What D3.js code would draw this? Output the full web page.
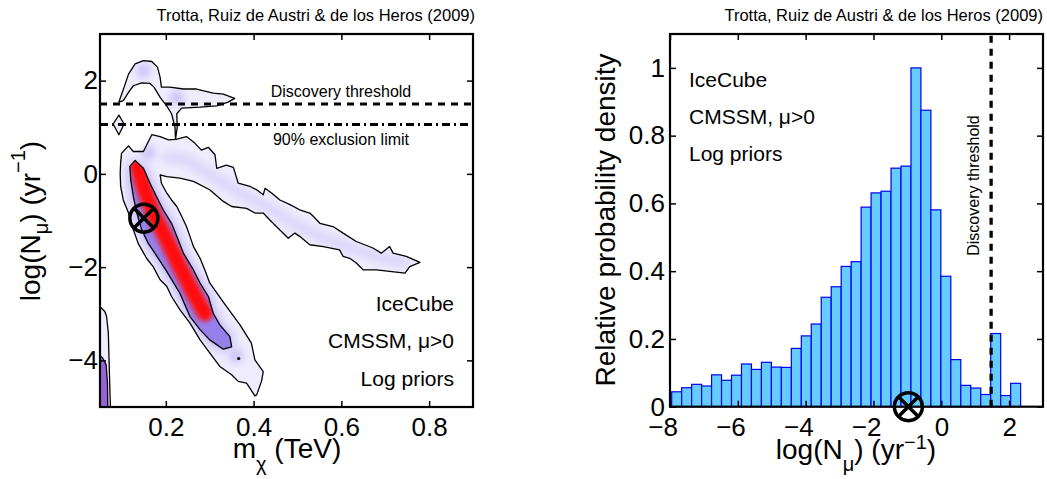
<!DOCTYPE html>
<html>
<head>
<meta charset="utf-8">
<script src="https://cdn.jsdelivr.net/npm/d3@7"></script>
<style>
  body { margin: 0; background: #fff; }
  text { font-family: "Liberation Sans", Arial, Helvetica, sans-serif; fill: #000; }
</style>
</head>
<body>
<svg id="Viz"></svg>
<script>
width = 1047,
height = 479;

// ---- left panel: posterior in (m_chi [TeV], log N_mu) ----
// outer (95%) contour of the main band + upper branch
var outerMain = [[0.099,0.44],[0.115,0.60],[0.126,0.48],[0.149,0.48],[0.160,0.69],[0.168,0.84],[0.187,0.80],
  [0.206,0.73],[0.223,0.74],[0.247,0.80],[0.266,0.66],[0.281,0.51],[0.297,0.57],[0.312,0.41],[0.316,0.12],
  [0.338,0.19],[0.354,0.14],[0.365,-0.20],[0.392,-0.27],[0.407,-0.34],[0.422,-0.45],[0.426,-0.31],[0.441,-0.41],
  [0.460,-0.56],[0.483,-0.66],[0.505,-0.77],[0.528,-0.84],[0.536,-0.91],[0.551,-1.06],[0.581,-1.13],[0.604,-1.27],
  [0.634,-1.45],[0.672,-1.59],[0.691,-1.70],[0.710,-1.56],[0.718,-1.70],[0.748,-1.77],[0.779,-1.90],[0.756,-1.99],
  [0.745,-2.13],[0.710,-2.09],[0.680,-2.06],[0.650,-2.06],[0.634,-1.91],[0.619,-1.81],[0.604,-1.77],[0.596,-1.63],
  [0.559,-1.56],[0.528,-1.52],[0.505,-1.34],[0.494,-1.27],[0.479,-1.38],[0.464,-1.24],[0.437,-0.99],[0.422,-0.84],
  [0.403,-0.84],[0.384,-0.74],[0.350,-0.70],[0.331,-0.59],[0.300,-0.34],[0.263,-0.16],[0.232,-0.09],[0.202,-0.06],
  [0.187,-0.02],[0.190,-0.20],[0.202,-0.41],[0.213,-0.56],[0.225,-0.70],[0.236,-0.91],[0.247,-1.13],[0.255,-1.34],
  [0.263,-1.56],[0.278,-1.81],[0.289,-2.06],[0.300,-2.34],[0.338,-2.84],[0.369,-3.24],[0.395,-3.63],[0.403,-3.99],
  [0.422,-4.24],[0.418,-4.45],[0.407,-4.74],[0.403,-4.76],[0.384,-4.49],[0.365,-4.45],[0.350,-4.31],[0.323,-4.13],
  [0.300,-3.84],[0.278,-3.56],[0.255,-3.20],[0.232,-2.91],[0.213,-2.63],[0.202,-2.41],[0.187,-2.27],[0.171,-1.99],
  [0.156,-1.81],[0.137,-1.49],[0.126,-1.20],[0.115,-0.84],[0.103,-0.56],[0.097,-0.27],[0.096,0.01],[0.097,0.23]];

// inner (68%) contour of the main band
var innerMain = [[0.130,0.29],[0.149,0.12],[0.164,-0.20],[0.179,-0.49],[0.194,-0.77],[0.213,-1.06],[0.228,-1.41],
  [0.240,-1.70],[0.263,-2.06],[0.278,-2.34],[0.297,-2.63],[0.308,-2.99],[0.323,-3.24],[0.346,-3.49],[0.350,-3.71],
  [0.331,-3.76],[0.300,-3.56],[0.278,-3.34],[0.255,-3.06],[0.232,-2.56],[0.202,-2.09],[0.175,-1.70],[0.160,-1.49],
  [0.145,-1.20],[0.134,-0.84],[0.126,-0.49],[0.120,-0.13],[0.118,0.16]];

// upper lobe above the thresholds
var upperLobe = [[0.093,1.54],[0.105,1.86],[0.115,2.14],[0.130,2.36],[0.149,2.43],[0.168,2.41],[0.181,2.29],
  [0.187,2.07],[0.190,1.86],[0.209,1.86],[0.240,1.82],[0.270,1.82],[0.308,1.73],[0.331,1.71],[0.357,1.62],
  [0.342,1.54],[0.316,1.46],[0.278,1.43],[0.236,1.41],[0.225,1.29],[0.226,1.00],[0.222,0.74],[0.221,1.00],
  [0.213,1.29],[0.202,1.46],[0.187,1.64],[0.173,1.86],[0.164,1.94],[0.145,1.95],[0.126,1.89],[0.115,1.75],
  [0.103,1.57]];

var diamond = [[0.080,1.07],[0.093,1.26],[0.105,1.07],[0.093,0.84]];

// low-mass strip at the left edge
var stripOuter = [[0.05,-2.85],[0.061,-2.95],[0.065,-3.06],[0.069,-3.41],[0.071,-4.13],[0.074,-5.1],[0.05,-5.1]];
var stripInner = [[0.05,-3.9],[0.056,-3.95],[0.064,-4.09],[0.067,-4.49],[0.068,-5.1],[0.05,-5.1]];

// density ridges and local maxima (for shading)
var coreRidge = [[0.135,0.16],[0.149,-0.27],[0.171,-0.84],[0.202,-1.41],[0.232,-1.99],[0.263,-2.56],[0.289,-2.99]];
var branchRidge = [[0.194,0.37],[0.247,0.30],[0.308,-0.06],[0.369,-0.41],[0.430,-0.70],[0.490,-1.06],
  [0.551,-1.34],[0.619,-1.59],[0.695,-1.81],[0.756,-1.93]];
var blobs = [[0.225,1.64],[0.149,2.21],[0.160,0.45],[0.36,-3.9]];
var isolatedDot = [0.366,-3.96];

var discoveryLevel = 1.5;
var exclusionLevel = 1.06;
var bestFitL = [0.150,-0.95];
var xTicksL = [0.2,0.4,0.6,0.8];
var yTicksL = [-4,-2,0,2];

// ---- right panel: histogram of log N_mu ----
var binStart = -7.95, binWidth = 0.294;
var density = [0.044,0.056,0.066,0.061,0.094,0.078,0.093,0.126,0.110,0.131,0.117,0.116,0.172,0.209,0.244,
  0.323,0.354,0.414,0.428,0.589,0.631,0.636,0.704,0.710,1.0,0.875,0.581,0.385,0.139,0.063,0.055,0.036,
  0.216,0.033,0.069];
var discoveryR = 1.47;
var bestFitR = -0.97;
var xTicksR = [-8,-6,-4,-2,0,2];
var yTicksR = [0,0.2,0.4,0.6,0.8,1];

var labels = ["IceCube", "CMSSM, \u03bc>0", "Log priors"];
var credit = "Trotta, Ruiz de Austri & de los Heros (2009)";

var svg = d3.select("#Viz").attr("width", width).attr("height", height);
svg.append("rect").attr("width", width).attr("height", height).attr("fill", "#fff");

var defs = svg.append("defs");
function blurFilter(id, s) {
  defs.append("filter").attr("id", id).attr("filterUnits", "userSpaceOnUse")
    .attr("x", 0).attr("y", 0).attr("width", width).attr("height", height)
    .append("feGaussianBlur").attr("stdDeviation", s);
}
blurFilter("b8", 7);
blurFilter("b4", 4);
blurFilter("b3", 2.5);

// left scales
var xL = d3.scaleLinear().domain([0.05, 0.9]).range([100, 473]);
var yL = d3.scaleLinear().domain([-5, 3]).range([407, 34]);
var lineL = d3.line().x(function(d){ return xL(d[0]); }).y(function(d){ return yL(d[1]); });
var closedL = function(p){ return lineL(p) + "Z"; };

defs.append("clipPath").attr("id", "clipL").append("rect")
  .attr("x", 100).attr("y", 34).attr("width", 373).attr("height", 373);
defs.append("clipPath").attr("id", "clipOuter").append("path").attr("d", closedL(outerMain));
defs.append("clipPath").attr("id", "clipInner").append("path").attr("d", closedL(innerMain));

var gL = svg.append("g").attr("clip-path", "url(#clipL)");

// light fill of 95% regions
[outerMain, upperLobe, diamond, stripOuter].forEach(function(p){
  gL.append("path").attr("d", closedL(p)).attr("fill", "#efedfd");
});

// shading inside the outer region
var gO = gL.append("g").attr("clip-path", "url(#clipOuter)");
gO.append("path").attr("d", lineL(branchRidge)).attr("fill", "none")
  .attr("stroke", "#dcd6fa").attr("stroke-width", 12).attr("filter", "url(#b4)");
gO.append("path").attr("d", closedL(innerMain)).attr("fill", "#a696f1").attr("filter", "url(#b8)");

gL.selectAll("circle.blob").data(blobs).enter().append("circle").attr("class", "blob")
  .attr("cx", function(d){ return xL(d[0]); })
  .attr("cy", function(d){ return yL(d[1]); })
  .attr("r", 7).attr("fill", "#c6bdf7").attr("filter", "url(#b4)");

// strip shading
gL.append("path").attr("d", closedL(stripInner)).attr("fill", "#9a62d8");

// inner 68% region with red core
gL.append("path").attr("d", closedL(innerMain)).attr("fill", "#9580ec");
gL.append("g").attr("clip-path", "url(#clipInner)")
  .append("path").attr("d", lineL(coreRidge)).attr("fill", "none")
  .attr("stroke", "#ff0a0a").attr("stroke-width", 16).attr("stroke-linecap", "round")
  .attr("filter", "url(#b3)");

// contour lines
[outerMain, innerMain, upperLobe, diamond, stripOuter, stripInner].forEach(function(p){
  gL.append("path").attr("d", closedL(p)).attr("fill", "none")
    .attr("stroke", "#000").attr("stroke-width", 1.3).attr("stroke-linejoin", "round");
});
gL.append("circle").attr("cx", xL(isolatedDot[0])).attr("cy", yL(isolatedDot[1])).attr("r", 1.6).attr("fill", "#000");

// thresholds
svg.append("line").attr("x1", xL(0.05)).attr("x2", xL(0.9))
  .attr("y1", yL(discoveryLevel)).attr("y2", yL(discoveryLevel))
  .attr("stroke", "#000").attr("stroke-width", 3).attr("stroke-dasharray", "7,6");
svg.append("line").attr("x1", xL(0.05)).attr("x2", xL(0.9))
  .attr("y1", yL(exclusionLevel)).attr("y2", yL(exclusionLevel))
  .attr("stroke", "#000").attr("stroke-width", 3).attr("stroke-dasharray", "8,4,2,4");
svg.append("text").attr("x", 341).attr("y", 96.5).attr("text-anchor", "middle")
  .style("font-size", "16px").text("Discovery threshold");
svg.append("text").attr("x", 341).attr("y", 144.5).attr("text-anchor", "middle")
  .style("font-size", "16px").text("90% exclusion limit");

function otimes(g, cx, cy) {
  var r = 14, k = r * Math.SQRT1_2;
  g.append("circle").attr("cx", cx).attr("cy", cy).attr("r", r)
    .attr("fill", "none").attr("stroke", "#000").attr("stroke-width", 3.5);
  g.append("path").attr("d", "M" + (cx - k) + "," + (cy - k) + "L" + (cx + k) + "," + (cy + k) +
      "M" + (cx - k) + "," + (cy + k) + "L" + (cx + k) + "," + (cy - k))
    .attr("stroke", "#000").attr("stroke-width", 3.5);
}
otimes(svg, xL(bestFitL[0]), yL(bestFitL[1]));

// annotation texts
labels.forEach(function(t, i){
  svg.append("text").attr("x", 454).attr("y", [311, 348, 385.5][i]).attr("text-anchor", "end")
    .style("font-size", "21px").text(t);
});
svg.append("text").attr("x", 475).attr("y", 21).attr("text-anchor", "end")
  .style("font-size", "16.5px").text(credit);

// axes (inward ticks on all four sides)
function styleAxis(g) {
  g.select(".domain").remove();
  g.selectAll(".tick line").attr("stroke", "#000").attr("stroke-width", 1.5);
  g.selectAll("text").style("font-size", "26px").attr("fill", "#000");
}
svg.append("g").attr("transform", "translate(0,407)")
  .call(d3.axisBottom(xL).tickValues(xTicksL).tickSize(-6).tickSizeOuter(0).tickPadding(11).tickFormat(d3.format(".1f")))
  .call(styleAxis);
svg.append("g").attr("transform", "translate(0,34)")
  .call(d3.axisTop(xL).tickValues(xTicksL).tickSize(-6).tickSizeOuter(0).tickFormat(""))
  .call(styleAxis);
svg.append("g").attr("transform", "translate(100,0)")
  .call(d3.axisLeft(yL).tickValues(yTicksL).tickSize(-6).tickSizeOuter(0).tickPadding(2))
  .call(styleAxis);
svg.append("g").attr("transform", "translate(473,0)")
  .call(d3.axisRight(yL).tickValues(yTicksL).tickSize(-6).tickSizeOuter(0).tickFormat(""))
  .call(styleAxis);
svg.append("rect").attr("x", 100).attr("y", 34).attr("width", 373).attr("height", 373)
  .attr("fill", "none").attr("stroke", "#000").attr("stroke-width", 2.2);

// axis titles
var xt = svg.append("text").attr("x", 287).attr("y", 458).attr("text-anchor", "middle").style("font-size", "28px");
xt.append("tspan").text("m");
xt.append("tspan").attr("dy", 13).style("font-size", "20px").text("\u03c7");
xt.append("tspan").attr("dy", -13).text(" (TeV)");

var yt = svg.append("text").attr("transform", "translate(40,221) rotate(-90)").attr("text-anchor", "middle")
  .style("font-size", "28px");
yt.append("tspan").text("log(N");
yt.append("tspan").attr("dy", 8).style("font-size", "20px").text("\u03bc");
yt.append("tspan").attr("dy", -8).text(") (yr");
yt.append("tspan").attr("dy", -15).style("font-size", "20px").text("\u22121");
yt.append("tspan").attr("dy", 15).text(")");

// ---- right panel ----
var xR = d3.scaleLinear().domain([-8, 3]).range([670, 1043]);
var yR = d3.scaleLinear().domain([0, 1.1]).range([406.7, 34]);

svg.append("g").selectAll("rect").data(density).enter().append("rect")
  .attr("x", function(d, i){ return xR(binStart + i * binWidth); })
  .attr("width", function(d, i){ return xR(binStart + (i + 1) * binWidth) - xR(binStart + i * binWidth); })
  .attr("y", function(d){ return yR(d); })
  .attr("height", function(d){ return yR(0) - yR(d); })
  .attr("fill", "#66ccff").attr("stroke", "#0000ee").attr("stroke-width", 1.2);

svg.append("line").attr("x1", xR(discoveryR)).attr("x2", xR(discoveryR))
  .attr("y1", yR(0)).attr("y2", yR(1.1))
  .attr("stroke", "#000").attr("stroke-width", 3.3).attr("stroke-dasharray", "7,6");
svg.append("text").attr("transform", "translate(979,185.5) rotate(-90)").attr("text-anchor", "middle")
  .style("font-size", "16px").text("Discovery threshold");

labels.forEach(function(t, i){
  svg.append("text").attr("x", 689).attr("y", [87, 124, 161][i]).style("font-size", "21px").text(t);
});
svg.append("text").attr("x", 1043).attr("y", 21).attr("text-anchor", "end")
  .style("font-size", "16.5px").text(credit);

var gx = svg.append("g").attr("transform", "translate(0,406.7)")
  .call(d3.axisBottom(xR).tickValues(xTicksR).tickSize(-6).tickSizeOuter(0).tickPadding(11))
  .call(styleAxis);
gx.selectAll("text").attr("text-anchor", "end").attr("x", 7.5);
svg.append("g").attr("transform", "translate(0,34)")
  .call(d3.axisTop(xR).tickValues(xTicksR).tickSize(-6).tickSizeOuter(0).tickFormat(""))
  .call(styleAxis);
svg.append("g").attr("transform", "translate(670,0)")
  .call(d3.axisLeft(yR).tickValues(yTicksR).tickSize(-6).tickSizeOuter(0).tickPadding(5).tickFormat(function(d){ return d3.format("")(d); }))
  .call(styleAxis);
svg.append("g").attr("transform", "translate(1043,0)")
  .call(d3.axisRight(yR).tickValues(yTicksR).tickSize(-6).tickSizeOuter(0).tickFormat(""))
  .call(styleAxis);
svg.append("rect").attr("x", 670).attr("y", 34).attr("width", 373).attr("height", 372.7)
  .attr("fill", "none").attr("stroke", "#000").attr("stroke-width", 2.2);

otimes(svg, xR(bestFitR), yR(0));

var xt2 = svg.append("text").attr("x", 856).attr("y", 459).attr("text-anchor", "middle").style("font-size", "28px");
xt2.append("tspan").text("log(N");
xt2.append("tspan").attr("dy", 12).style("font-size", "20px").text("\u03bc");
xt2.append("tspan").attr("dy", -12).text(") (yr");
xt2.append("tspan").attr("dy", -10).style("font-size", "20px").text("\u22121");
xt2.append("tspan").attr("dy", 10).text(")");

svg.append("text").attr("transform", "translate(615,220) rotate(-90)").attr("text-anchor", "middle")
  .style("font-size", "28px").text("Relative probability density");
</script>
</body>
</html>
